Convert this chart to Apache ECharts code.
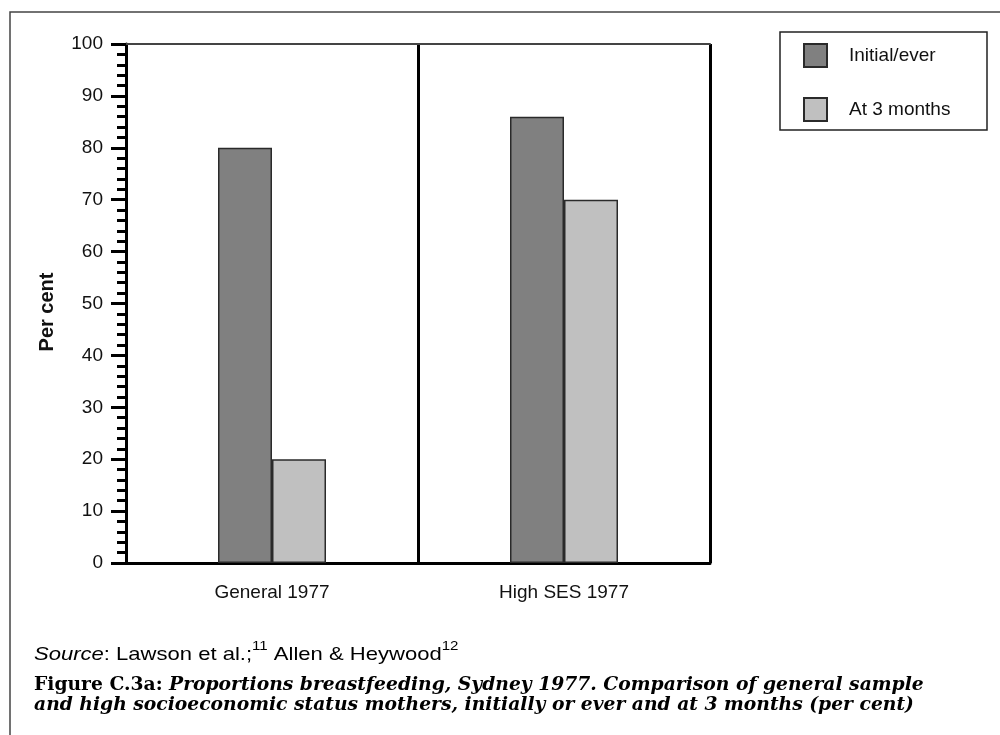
<!DOCTYPE html>
<html>
<head>
<meta charset="utf-8">
<script src="https://cdn.jsdelivr.net/npm/echarts@6/dist/echarts.min.js"></script>
<style>
  html, body { margin: 0; padding: 0; background: #fff; }
  #chart { width: 1000px; height: 735px; }
</style>
</head>
<body>
<div id="chart"></div>
<script>
// groups on the x axis
const categories = ['General 1977', 'High SES 1977']
// per cent breastfeeding
const initialEver = [80, 86]
const atThreeMonths = [20, 70]
const seriesNames = ['Initial/ever', 'At 3 months']

const FONT = '"Liberation Sans", Arial, sans-serif'
const SERIF = '"DejaVu Serif", "Liberation Serif", serif'

const chart = echarts.init(document.getElementById('chart'))

chart.setOption({
  animation: false,
  backgroundColor: '#fff',
  grid: { left: 126, right: 290, top: 44, bottom: 172 },
  legend: {
    orient: 'vertical',
    left: 803,
    top: 43,
    itemWidth: 23,
    itemHeight: 23,
    itemGap: 29,
    padding: 0,
    icon: 'rect',
    textStyle: { fontFamily: FONT, fontSize: 19, color: '#111', padding: [0, 0, 0, 17] },
    data: seriesNames
  },
  xAxis: [
    {
      type: 'category',
      data: categories,
      axisLine: { lineStyle: { color: '#000', width: 3 } },
      axisTick: { length: 15, lineStyle: { color: '#000', width: 3 } },
      splitLine: { show: true, lineStyle: { color: '#000', width: 3 } },
      axisLabel: { fontFamily: FONT, fontSize: 19, color: '#111', margin: 20 }
    },
    {
      type: 'category',
      position: 'top',
      data: categories,
      axisLine: { lineStyle: { color: '#444', width: 2 } },
      axisTick: { show: false },
      axisLabel: { show: false }
    }
  ],
  yAxis: {
    type: 'value',
    min: 0,
    max: 100,
    interval: 10,
    axisLine: { show: true, lineStyle: { color: '#000', width: 3 } },
    axisTick: { show: true, length: 15, lineStyle: { color: '#000', width: 3 } },
    minorTick: { show: true, splitNumber: 5, length: 9, lineStyle: { color: '#000', width: 3 } },
    splitLine: { show: false },
    axisLabel: { fontFamily: FONT, fontSize: 19, color: '#111', margin: 23 }
  },
  series: [
    {
      name: seriesNames[0],
      type: 'bar',
      data: initialEver,
      barWidth: 54,
      barGap: '0%',
      itemStyle: { color: '#808080', borderColor: '#2a2a2a', borderWidth: 1.5 }
    },
    {
      name: seriesNames[1],
      type: 'bar',
      data: atThreeMonths,
      barWidth: 54,
      barGap: '0%',
      itemStyle: { color: '#c0c0c0', borderColor: '#2a2a2a', borderWidth: 1.5 }
    }
  ],
  graphic: [
    {
      type: 'polyline',
      shape: { points: [[10, 735], [10, 12], [1000, 12]] },
      style: { stroke: '#444', lineWidth: 1.5, fill: null }
    },
    {
      type: 'rect',
      shape: { x: 780, y: 32, width: 207, height: 98 },
      style: { stroke: '#222', lineWidth: 1.5, fill: null },
      z: -1
    },
    {
      type: 'text',
      x: 47,
      y: 312,
      rotation: Math.PI / 2,
      style: {
        text: 'Per cent',
        font: 'bold 20px "Liberation Sans", Arial, sans-serif',
        fill: '#111',
        align: 'center',
        verticalAlign: 'middle'
      }
    },
    {
      type: 'text',
      x: 34,
      y: 640,
      scaleX: 1.16,
      style: {
        text: '{i|Source}{n|: Lawson et al.;}{s|11}{n| Allen & Heywood}{s|12}',
        rich: {
          i: { fontFamily: FONT, fontSize: 19, fontStyle: 'italic', color: '#111', lineHeight: 24, verticalAlign: 'bottom' },
          n: { fontFamily: FONT, fontSize: 19, color: '#111', lineHeight: 24, verticalAlign: 'bottom' },
          s: { fontFamily: FONT, fontSize: 13, color: '#111', lineHeight: 24, verticalAlign: 'top' }
        }
      }
    },
    {
      type: 'text',
      x: 34,
      y: 675,
      scaleX: 1.04,
      style: {
        text: '{b|Figure C.3a: }{bi|Proportions breastfeeding, Sydney 1977. Comparison of general sample}\n{bi|and high socioeconomic status mothers, initially or ever and at 3 months (per cent)}',
        rich: {
          b: { fontFamily: SERIF, fontSize: 18, fontWeight: 'bold', color: '#111', lineHeight: 20 },
          bi: { fontFamily: SERIF, fontSize: 18, fontWeight: 'bold', fontStyle: 'italic', color: '#111', lineHeight: 20 }
        }
      }
    }
  ]
})
</script>
</body>
</html>
